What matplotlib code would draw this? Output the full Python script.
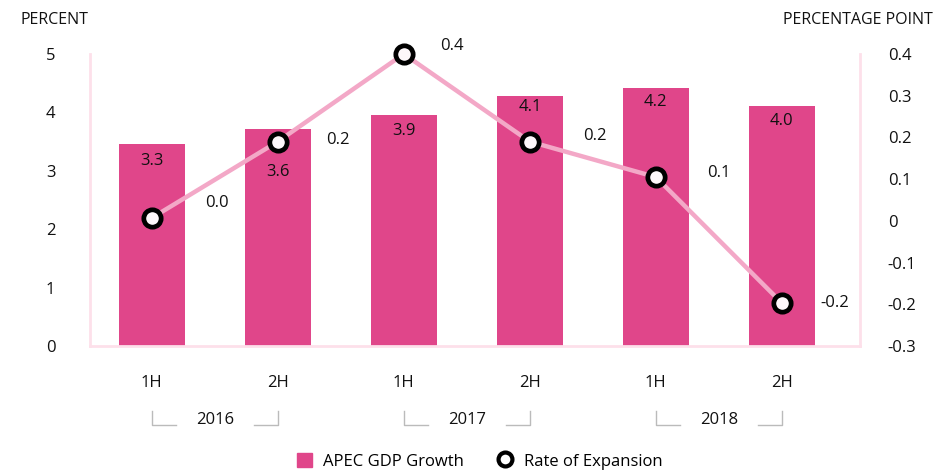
import numpy as np
import matplotlib
matplotlib.use("Agg")
import matplotlib.pyplot as plt
from matplotlib.lines import Line2D
from matplotlib.patches import Patch

plt.rcParams['font.family'] = ['Open Sans', 'DejaVu Sans']

# data
halves = ["1H", "2H", "1H", "2H", "1H", "2H"]
years = ["2016", "2017", "2018"]
gdp_labels = ["3.3", "3.6", "3.9", "4.1", "4.2", "4.0"]
gdp_heights = [3.46, 3.72, 3.96, 4.28, 4.42, 4.11]
expansion = [0.007, 0.19, 0.40, 0.19, 0.105, -0.197]
exp_labels = ["0.0", "0.2", "0.4", "0.2", "0.1", "-0.2"]

# label offsets (points)
bar_lbl_dy = [-12, -31, -12, -8, -10, -11]
line_lbl_off = [(47, 11), (43, 1), (35, 6), (47, 4), (45, 3), (38, 0)]

bar_color = '#e0468a'
line_color = '#f3a8c7'
spine_color = '#fde0ea'
txt = '#111111'

fig = plt.figure(figsize=(9.35, 4.73), dpi=100)
ax = fig.add_axes([90 / 935, 1 - 346 / 473, 770 / 935, 292 / 473])
ax2 = ax.twinx()

x = np.arange(len(halves))
ax.bar(x, gdp_heights, width=0.52, color=bar_color, zorder=2)
for xi, h, lbl, dy in zip(x, gdp_heights, gdp_labels, bar_lbl_dy):
    ax.annotate(lbl, (xi, h), xytext=(0, dy), textcoords='offset points',
                ha='center', va='center', fontsize=12, color=txt)

ax2.plot(x, expansion, color=line_color, lw=3.2, zorder=3, clip_on=False)
ax2.plot(x, expansion, ls='none', marker='o', ms=12.5, mfc='#fdf7fa',
         mec='black', mew=3.4, zorder=4, clip_on=False)
for xi, v, lbl, off in zip(x, expansion, exp_labels, line_lbl_off):
    ax2.annotate(lbl, (xi, v), xytext=off, textcoords='offset points',
                 ha='center', va='center', fontsize=12, color=txt)

ax.set_xlim(-0.49, 5.62)
ax.set_ylim(0, 5)
ax2.set_ylim(-0.3, 0.4)
ax.set_yticks(range(6))
ax2.set_yticks(np.round(np.arange(-0.3, 0.41, 0.1), 1))
ax2.set_yticklabels(["-0.3", "-0.2", "-0.1", "0", "0.1", "0.2", "0.3", "0.4"])
ax.set_xticks(x)
ax.set_xticklabels(halves)

ax.tick_params(axis='y', length=0, pad=25, labelsize=12, labelcolor=txt)
ax2.tick_params(axis='y', length=0, pad=20, labelsize=12, labelcolor=txt)
ax.tick_params(axis='x', length=0, pad=21, labelsize=12, labelcolor=txt)

for a in (ax, ax2):
    for side in a.spines:
        a.spines[side].set_visible(False)
for side in ('left', 'bottom'):
    ax.spines[side].set_visible(True)
    ax.spines[side].set_color(spine_color)
    ax.spines[side].set_linewidth(2)
ax2.spines['right'].set_visible(True)
ax2.spines['right'].set_color(spine_color)
ax2.spines['right'].set_linewidth(2)

# year brackets under the half-year labels
tr = ax.get_xaxis_transform()
y_top, y_bot = -0.222, -0.27
for i, yr in enumerate(years):
    x0, x1 = 2 * i, 2 * i + 1
    ax.plot([x0, x0, x0 + 0.19], [y_top, y_bot, y_bot], color='#bbbbbb',
            lw=1, transform=tr, clip_on=False)
    ax.plot([x1 - 0.19, x1, x1], [y_bot, y_bot, y_top], color='#bbbbbb',
            lw=1, transform=tr, clip_on=False)
    ax.text((x0 + x1) / 2, -0.255, yr, transform=tr, ha='center',
            va='center', fontsize=12, color=txt)

fig.text(20 / 935, 1 - 20 / 473, "PERCENT", ha='left', va='center',
         fontsize=11.5, color=txt)
fig.text(933 / 935, 1 - 20 / 473, "PERCENTAGE POINT", ha='right',
         va='center', fontsize=11.5, color=txt)

handles = [Patch(color=bar_color, label="APEC GDP Growth"),
           Line2D([], [], ls='none', marker='o', ms=10, mfc='white',
                  mec='black', mew=3, label="Rate of Expansion")]
fig.legend(handles=handles, loc='center', bbox_to_anchor=(0.513, 0.025),
           ncol=2, frameon=False, fontsize=12, handlelength=0.9,
           handleheight=0.9, columnspacing=2.0, handletextpad=0.7,
           borderpad=0.2)

fig.savefig("out.png", dpi=100, facecolor='white')
